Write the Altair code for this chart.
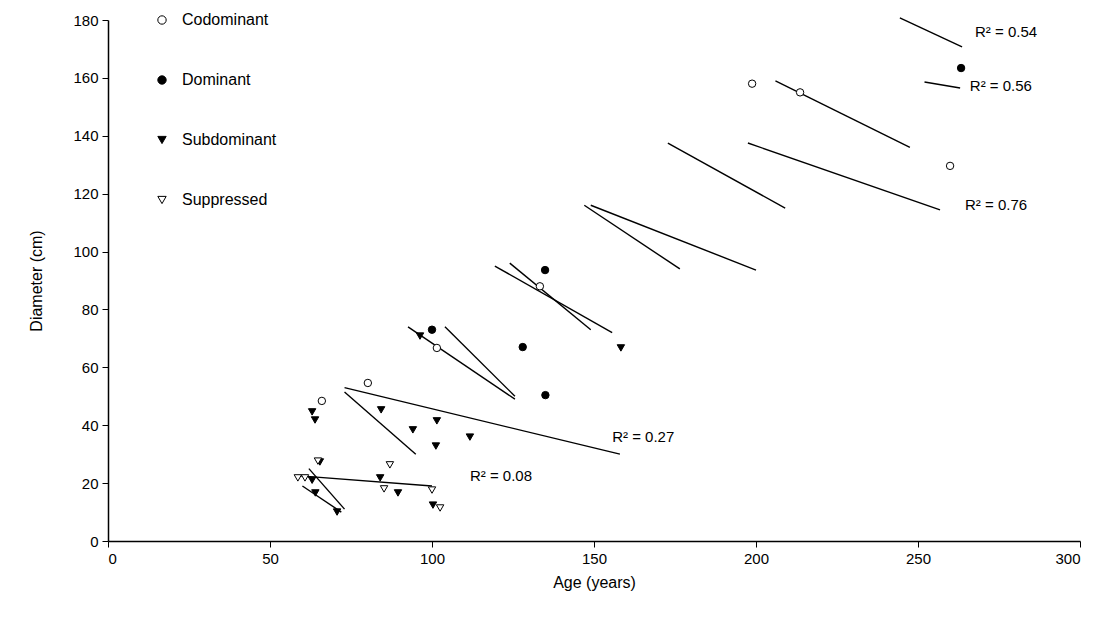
import altair as alt
import pandas as pd

# ---- point data (age in years, diameter in cm, crown class) ----
pt_age = [66, 80.2, 101.5, 133.3, 198.8, 213.6, 259.9,
          100, 128, 135, 134.9, 263.3,
          63, 63.9, 63, 65.4, 70.7, 84.3, 94.1, 101.5, 111.7, 101.2, 84, 89.5, 100.3, 96.3, 158.3, 64,
          64.8, 58.6, 60.8, 87, 85.2, 100, 102.5]
pt_diam = [48.4, 54.6, 66.7, 88, 158, 155, 129.6,
           73, 67, 50.4, 93.6, 163.4,
           44.6, 41.8, 21, 27.3, 10, 45.3, 38.4, 41.5, 35.9, 32.8, 21.8, 16.6, 12.4, 70.8, 66.7, 16.6,
           27.6, 21.8, 21.8, 26.3, 18, 17.6, 11.4]
pt_class = (["Codominant"] * 7 + ["Dominant"] * 5 + ["Subdominant"] * 16 + ["Suppressed"] * 7)

# ---- regression segments (start/end age, start/end diameter) ----
seg_age0 = [59.3, 62, 60, 73, 73, 92.6, 104, 119.4, 124, 147, 149, 172.8, 197.5, 206, 244.4, 252]
seg_age1 = [100, 73, 72, 158, 95, 125.6, 125.6, 155.6, 149, 176.5, 200, 209, 256.8, 247.5, 263.6, 263]
seg_d0 = [22.5, 25, 19, 53, 51.5, 74, 74, 95, 96, 116, 116, 137.5, 137.5, 159, 180.7, 158.6]
seg_d1 = [19, 11, 10, 30, 30, 49, 50, 72, 73, 94, 93.6, 115, 114.4, 136, 170.7, 156.5]

# ---- R² labels ----
lab_text = ["R² = 0.08", "R² = 0.27", "R² = 0.76", "R² = 0.54", "R² = 0.56"]
lab_age = [111.7, 155.6, 264.5, 267.6, 266]
lab_diam = [22.5, 35.9, 116, 175.9, 157.2]

classes = ["Codominant", "Dominant", "Subdominant", "Suppressed"]

pts = pd.DataFrame({"age": pt_age, "diam": pt_diam, "cls": pt_class})
rows = []
for i in range(len(seg_age0)):
    rows.append({"id": i, "age": seg_age0[i], "diam": seg_d0[i], "o": 0})
    rows.append({"id": i, "age": seg_age1[i], "diam": seg_d1[i], "o": 1})
segs = pd.DataFrame(rows)
labs = pd.DataFrame({"t": lab_text, "age": lab_age, "diam": lab_diam})

xsc = alt.Scale(domain=[0, 300], nice=False)
ysc = alt.Scale(domain=[0, 180], nice=False)
xax = alt.Axis(values=[0, 50, 100, 150, 200, 250, 300], title="Age (years)", grid=False,
               titlePadding=8)
yax = alt.Axis(values=list(range(0, 181, 20)), title="Diameter (cm)", grid=False,
               titlePadding=28)

lines = alt.Chart(segs).mark_line(color="black", strokeWidth=1.4).encode(
    x=alt.X("age:Q", scale=xsc, axis=xax),
    y=alt.Y("diam:Q", scale=ysc, axis=yax),
    detail="id:N",
    order="o:Q",
)

points = alt.Chart(pts).mark_point(filled=True, stroke="black", strokeWidth=1, size=55, opacity=1).encode(
    x=alt.X("age:Q", scale=xsc),
    y=alt.Y("diam:Q", scale=ysc),
    shape=alt.Shape("cls:N", title=None,
                    scale=alt.Scale(domain=classes,
                                    range=["circle", "circle", "triangle-down", "triangle-down"]),
                    legend=alt.Legend(orient="none", legendX=46, legendY=-8, rowPadding=44,
                                      labelFontSize=16, symbolSize=70, symbolStrokeWidth=1,
                                      labelOffset=12,
                                      labelFont="Liberation Sans", labelColor="black")),
    fill=alt.Fill("cls:N", title=None,
                  scale=alt.Scale(domain=classes, range=["white", "black", "black", "white"])),
)

texts = alt.Chart(labs).mark_text(align="left", baseline="middle", fontSize=15,
                                  font="Liberation Sans", color="black").encode(
    x=alt.X("age:Q", scale=xsc),
    y=alt.Y("diam:Q", scale=ysc),
    text="t:N",
)

chart = alt.layer(lines, points, texts).properties(
    width=972, height=521,
    autosize=alt.AutoSizeParams(type="none"),
    padding={"left": 100, "top": 12, "right": 16, "bottom": 90},
).configure_view(stroke=None).configure_axis(
    labelFont="Liberation Sans", titleFont="Liberation Sans",
    labelFontSize=15, titleFontSize=16, titleFontWeight="normal",
    labelColor="black", titleColor="black", domainColor="black", tickColor="black",
    tickSize=6, domainWidth=1.5, labelPadding=4,
)

chart.save("out.html", embed_options={"renderer": "svg", "actions": False})
